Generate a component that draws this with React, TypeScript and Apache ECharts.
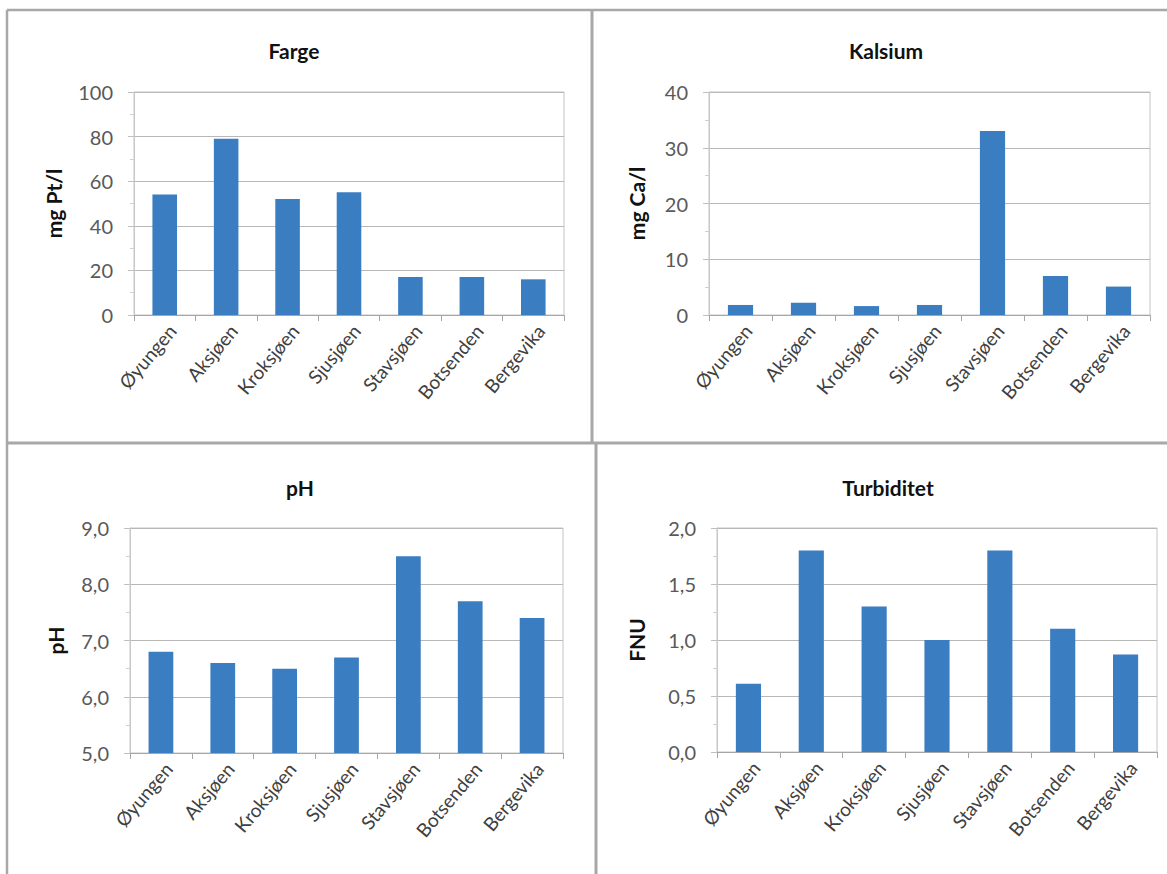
import React, { useEffect, useRef } from "react";
import * as echarts from "echarts";

const lakes = ["Øyungen", "Aksjøen", "Kroksjøen", "Sjusjøen", "Stavsjøen", "Botsenden", "Bergevika"];
const fargeValues = [54, 79, 52, 55, 17, 17, 16];
const kalsiumValues = [1.8, 2.2, 1.6, 1.8, 33, 7, 5.1];
const phValues = [6.8, 6.6, 6.5, 6.7, 8.5, 7.7, 7.4];
const turbValues = [0.61, 1.8, 1.3, 1.0, 1.8, 1.1, 0.87];

const titles = ["Farge", "Kalsium", "pH", "Turbiditet"];
const yNames = ["mg Pt/l", "mg Ca/l", "pH", "FNU"];
const yMins = [0, 0, 5, 0];
const yMaxs = [100, 40, 9, 2];
const yIntervals = [20, 10, 1, 0.5];

const FONT = "Lato, 'Open Sans', sans-serif";
const BAR = "#3a7dc1";

export default function App() {
  const ref = useRef<HTMLDivElement>(null);
  useEffect(() => {
    if (!ref.current) return;
    const chart = echarts.init(ref.current, undefined, { renderer: "svg" });
    const grids = [
      { left: 134, top: 92, width: 430, height: 223 },
      { left: 709, top: 92, width: 441, height: 223 },
      { left: 130, top: 528, width: 433, height: 225 },
      { left: 717, top: 528, width: 440, height: 224 },
    ];
    const nameGaps = [70, 62, 64, 70];
    const titleCenters = [
      [294, 50],
      [886, 50],
      [300, 487],
      [888, 487],
    ];
    const seriesData = [fargeValues, kalsiumValues, phValues, turbValues];
    const decimals = [false, false, true, true];

    const option: any = {
      animation: false,
      backgroundColor: "#ffffff",
      textStyle: { fontFamily: FONT },
      grid: grids.map((g) => ({
        ...g,
        show: true,
        borderColor: "#c4c4c4",
        borderWidth: 1,
        containLabel: false,
      })),
      xAxis: grids.map((_, i) => ({
        type: "category",
        gridIndex: i,
        data: lakes,
        axisLine: { lineStyle: { color: "#a6a6a6", width: 1 } },
        axisTick: { show: true, length: 6, lineStyle: { color: "#a6a6a6" } },
        axisLabel: {
          rotate: 50,
          color: "#404040",
          fontSize: 19,
          fontFamily: FONT,
          margin: 6,
          interval: 0,
          verticalAlign: "top",
        },
      })),
      yAxis: grids.map((_, i) => ({
        type: "value",
        gridIndex: i,
        min: yMins[i],
        max: yMaxs[i],
        interval: yIntervals[i],
        name: yNames[i],
        nameLocation: "middle",
        nameGap: nameGaps[i],
        nameRotate: 90,
        nameTextStyle: { fontWeight: "bold", fontSize: 21, color: "#111111", fontFamily: FONT },
        axisLine: { show: true, lineStyle: { color: "#c8c8c8" } },
        axisTick: { show: true, length: 6, lineStyle: { color: "#c0c0c0" } },
        minorTick: { show: true, splitNumber: 2, length: 4, lineStyle: { color: "#d0d0d0" } },
        splitLine: { show: true, lineStyle: { color: "#b8b8b8", width: 1 } },
        axisLabel: {
          color: "#595959",
          fontSize: 20,
          fontFamily: FONT,
          margin: 21,
          formatter: (v: number) => (decimals[i] ? v.toFixed(1).replace(".", ",") : String(v)),
        },
      })),
      series: seriesData.map((d, i) => ({
        type: "bar",
        xAxisIndex: i,
        yAxisIndex: i,
        data: d,
        barWidth: "40%",
        itemStyle: { color: BAR },
      })),
      graphic: [
        ...titles.map((t, i) => ({
          type: "text",
          x: titleCenters[i][0],
          y: titleCenters[i][1],
          style: {
            text: t,
            fontSize: 21,
            fontWeight: "bold",
            fontFamily: FONT,
            fill: "#111111",
            align: "center",
            verticalAlign: "middle",
          },
        })),
        { type: "line", shape: { x1: 7, y1: 10, x2: 1167, y2: 10 }, style: { stroke: "#a8a8a8", lineWidth: 2.5 } },
        { type: "line", shape: { x1: 7, y1: 10, x2: 7, y2: 874 }, style: { stroke: "#a8a8a8", lineWidth: 2.5 } },
        { type: "line", shape: { x1: 7, y1: 443, x2: 1167, y2: 443 }, style: { stroke: "#a8a8a8", lineWidth: 3 } },
        { type: "line", shape: { x1: 592, y1: 10, x2: 592, y2: 443 }, style: { stroke: "#a8a8a8", lineWidth: 3 } },
        { type: "line", shape: { x1: 596, y1: 443, x2: 596, y2: 874 }, style: { stroke: "#a8a8a8", lineWidth: 3 } },
      ],
    };
    chart.setOption(option);
    return () => chart.dispose();
  }, []);
  return (
    <div
      ref={ref}
      style={{ position: "fixed", left: 0, top: 0, width: 1167, height: 874, background: "#fff" }}
    />
  );
}
